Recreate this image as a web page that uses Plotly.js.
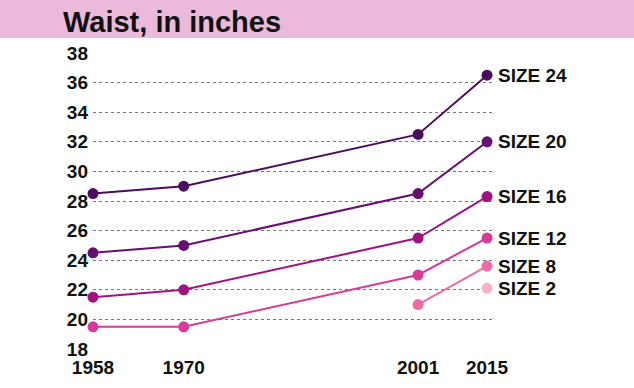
<!DOCTYPE html>
<html>
<head>
<meta charset="utf-8">
<script src="https://cdn.plot.ly/plotly-3.0.1.min.js"></script>
<style>
html,body{margin:0;padding:0;background:#fff;}
#chart{width:634px;height:388px;}
</style>
</head>
<body>
<div id="chart"></div>
<script>
const years = ['1958', '1970', '2001', '2015'];
const seriesNames = ['SIZE 24', 'SIZE 20', 'SIZE 16', 'SIZE 12', 'SIZE 8', 'SIZE 2'];
const size24 = [28.5, 29.0, 32.5, 36.5];
const size20 = [24.5, 25.0, 28.5, 32.0];
const size16 = [21.5, 22.0, 25.5, 28.3];
const size12 = [19.5, 19.5, 23.0, 25.5];
const size8  = [null, null, 21.0, 23.6];
const size2  = [null, null, null, 22.1];
const yTicks = [18, 20, 22, 24, 26, 28, 30, 32, 34, 36, 38];

const seriesValues = [size24, size20, size16, size12, size8, size2];
const colors = ['#4b0c5f', '#650f70', '#a0127f', '#d63b98', '#ec6aa6', '#f5b3c8'];
const FONT = '"Liberation Sans", Arial, sans-serif';

const traces = seriesValues.map((vals, i) => ({
  x: years,
  y: vals,
  type: 'scatter',
  mode: 'lines+markers',
  name: seriesNames[i],
  line: {color: colors[i], width: 2},
  marker: {color: colors[i], size: 11},
  cliponaxis: false,
  connectgaps: false,
  hoverinfo: 'skip'
}));

const annotations = seriesValues.map((vals, i) => ({
  x: years[years.length - 1],
  y: vals[vals.length - 1],
  xref: 'x', yref: 'y',
  text: '<b>' + seriesNames[i] + '</b>',
  showarrow: false,
  xanchor: 'left', yanchor: 'middle',
  xshift: 9,
  font: {family: FONT, size: 19, color: '#111'}
}));

const layout = {
  width: 634, height: 388,
  margin: {l: 93, r: 141, t: 53, b: 39},
  paper_bgcolor: '#ffffff',
  plot_bgcolor: '#ffffff',
  showlegend: false,
  title: {
    text: '<b>Waist, in inches</b>',
    xref: 'container', yref: 'container',
    x: 63 / 634, xanchor: 'left',
    y: 1 - 22 / 388, yanchor: 'middle',
    font: {family: FONT, size: 29, color: '#111'}
  },
  shapes: [{
    type: 'rect', xref: 'paper', yref: 'paper',
    x0: -1, x1: 2, y0: (349 - 38) / 296, y1: 1.5,
    fillcolor: '#ebbadb', line: {width: 0}, layer: 'below'
  }],
  xaxis: {
    type: 'date',
    range: ['1958-01-01', '2015-10-15'],
    rangebreaks: [{bounds: ['2004-01-01', '2008-11-15']}],
    tickmode: 'array',
    tickvals: years,
    ticktext: years.map(y => '<b>' + y + '</b>'),
    showgrid: false, zeroline: false, showline: false,
    ticks: '',
    ticklabelstandoff: 5,
    tickfont: {family: FONT, size: 19, color: '#111'},
    fixedrange: true
  },
  yaxis: {
    range: [18, 38],
    tickmode: 'array',
    tickvals: yTicks,
    ticktext: yTicks.map(v => '<b>' + v + '</b>'),
    showgrid: true, gridcolor: '#777', griddash: 'dot', gridwidth: 1,
    zeroline: false, showline: false, ticks: '',
    ticklabelstandoff: 4,
    tickfont: {family: FONT, size: 19, color: '#111'},
    fixedrange: true
  },
  annotations: annotations
};

Plotly.newPlot('chart', traces, layout, {staticPlot: true, displayModeBar: false});
</script>
</body>
</html>
